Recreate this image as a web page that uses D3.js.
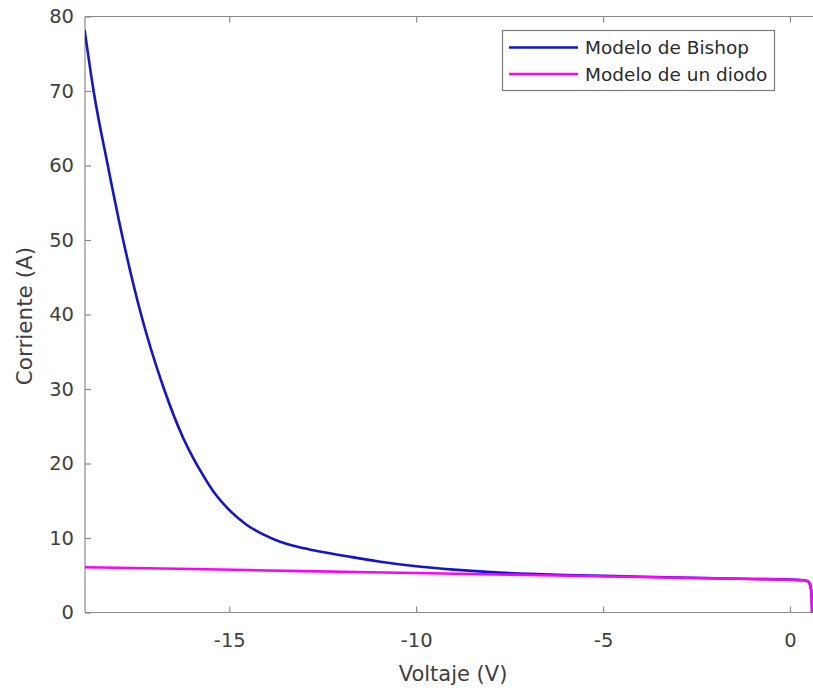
<!DOCTYPE html>
<html>
<head>
<meta charset="utf-8">
<script src="https://cdn.jsdelivr.net/npm/d3@7"></script>
<style>
  html, body { margin: 0; padding: 0; background: #ffffff; }
  svg { display: block; }
  text { font-family: "DejaVu Sans", sans-serif; }
</style>
</head>
<body>
<svg id="chart" width="813" height="688"></svg>
<script>
// ---- data ----
const bishopV = [-18.87, -18.63, -18.25, -17.84, -17.36, -16.76, -16.23, -15.95, -15.77, -15.42,
                 -14.97, -14.53, -14.08, -13.64, -13.2, -12.75, -11.85, -11.0, -10.0, -9.0,
                 -8.0, -7.0, -6.0, -5.0, -4.0, -3.0, -2.0, -1.0, 0.0, 0.3,
                 0.45, 0.52, 0.56, 0.58, 0.592];
const bishopI = [78.2, 70, 60, 50, 40, 30.2, 23.4, 20.6, 19.0, 16.2,
                 13.6, 11.75, 10.45, 9.5, 8.85, 8.35, 7.55, 6.85, 6.2, 5.75,
                 5.42, 5.2, 5.04, 4.92, 4.8, 4.7, 4.6, 4.5, 4.42, 4.34,
                 4.25, 3.95, 3.2, 2.0, 0];

const diodeV = [-18.87, -16, -13, -10, -7, -4, -2, 0, 0.3, 0.4, 0.47, 0.52, 0.55, 0.57, 0.58, 0.588, 0.592];
const diodeI = [6.08, 5.83, 5.56, 5.3, 5.03, 4.76, 4.58, 4.4, 4.33, 4.28, 4.18, 3.95, 3.5, 2.8, 2.0, 1.0, 0];

const xTicks = [-15, -10, -5, 0];
const yTicks = [0, 10, 20, 30, 40, 50, 60, 70, 80];
const seriesNames = ["Modelo de Bishop", "Modelo de un diodo"];
const seriesColors = ["#1212d8", "#ff00ff"];
const xLabel = "Voltaje (V)";
const yLabel = "Corriente (A)";

// ---- layout ----
const pLeft = 85, pRight = 821, pTop = 16.5, pBottom = 612.5;
const axisColor = "#8a8a8a", textColor = "#404040";

const svg = d3.select("#chart");
const x = d3.scaleLinear().domain([-18.86, 0.83]).range([pLeft, pRight]);
const y = d3.scaleLinear().domain([0, 80]).range([pBottom, pTop]);

svg.append("defs").append("clipPath").attr("id", "clip")
  .append("rect").attr("x", pLeft).attr("y", pTop).attr("width", pRight - pLeft).attr("height", pBottom - pTop);

const g = svg.append("g");

// axes box lines
g.append("line").attr("x1", pLeft).attr("x2", pRight).attr("y1", pTop).attr("y2", pTop)
  .attr("stroke", axisColor).attr("stroke-width", 1.2);
g.append("line").attr("x1", pLeft).attr("x2", pRight).attr("y1", pBottom).attr("y2", pBottom)
  .attr("stroke", axisColor).attr("stroke-width", 1.2);
g.append("line").attr("x1", pLeft).attr("x2", pLeft).attr("y1", pTop).attr("y2", pBottom)
  .attr("stroke", axisColor).attr("stroke-width", 1.2);

const tickLen = 6;
// x axis (bottom) with inward ticks
const xAxis = d3.axisBottom(x).tickValues(xTicks).tickSizeInner(-tickLen).tickSizeOuter(0)
  .tickFormat(d => String(d));
const gx = g.append("g").attr("transform", `translate(0,${pBottom})`).call(xAxis);
gx.select(".domain").remove();
gx.selectAll(".tick line").attr("stroke", axisColor).attr("stroke-width", 1.2);
gx.selectAll(".tick text").attr("fill", textColor).attr("font-size", 19.5)
  .attr("font-family", "DejaVu Sans").attr("dy", null).attr("y", 34);

// top ticks
const xTop = d3.axisTop(x).tickValues(xTicks).tickSizeInner(-tickLen).tickSizeOuter(0).tickFormat("");
const gxt = g.append("g").attr("transform", `translate(0,${pTop})`).call(xTop);
gxt.select(".domain").remove();
gxt.selectAll(".tick line").attr("stroke", axisColor).attr("stroke-width", 1.2);

// y axis (left) inward ticks
const yAxis = d3.axisLeft(y).tickValues(yTicks).tickSizeInner(-tickLen).tickSizeOuter(0);
const gy = g.append("g").attr("transform", `translate(${pLeft},0)`).call(yAxis);
gy.select(".domain").remove();
gy.selectAll(".tick line").attr("stroke", axisColor).attr("stroke-width", 1.2);
gy.selectAll(".tick text").attr("fill", textColor).attr("font-size", 19.5)
  .attr("font-family", "DejaVu Sans").attr("x", -11);

// axis labels
g.append("text").attr("x", 453).attr("y", 681).attr("text-anchor", "middle")
  .attr("font-size", 21).attr("fill", textColor).text(xLabel);
g.append("text").attr("transform", `translate(32,316) rotate(-90)`)
  .attr("text-anchor", "middle").attr("font-size", 21.5).attr("fill", textColor).text(yLabel);

// lines
const bishop = bishopV.map((v, i) => [v, bishopI[i]]);
const diode = diodeV.map((v, i) => [v, diodeI[i]]);
const line = d3.line().x(d => x(d[0])).y(d => y(d[1])).curve(d3.curveMonotoneX);

const plot = g.append("g").attr("clip-path", "url(#clip)");
plot.append("path").datum(bishop).attr("d", line).attr("fill", "none")
  .attr("stroke", seriesColors[0]).attr("stroke-width", 2.6).attr("stroke-linejoin", "round");
plot.append("path").datum(diode).attr("d", line).attr("fill", "none")
  .attr("stroke", seriesColors[1]).attr("stroke-width", 2.6).attr("stroke-linejoin", "round");

// legend
const lg = g.append("g");
lg.append("rect").attr("x", 502.5).attr("y", 30.5).attr("width", 272).attr("height", 60)
  .attr("fill", "#ffffff").attr("stroke", "#7a7a7a").attr("stroke-width", 1.2);
const rowsY = [47.5, 74];
seriesNames.forEach((name, i) => {
  lg.append("line").attr("x1", 509).attr("x2", 578).attr("y1", rowsY[i]).attr("y2", rowsY[i])
    .attr("stroke", seriesColors[i]).attr("stroke-width", 2.6);
  lg.append("text").attr("x", 585).attr("y", rowsY[i]).attr("dy", "0.36em")
    .attr("font-size", 18.5).attr("fill", "#2a2a2a").text(name);
});
</script>
</body>
</html>
